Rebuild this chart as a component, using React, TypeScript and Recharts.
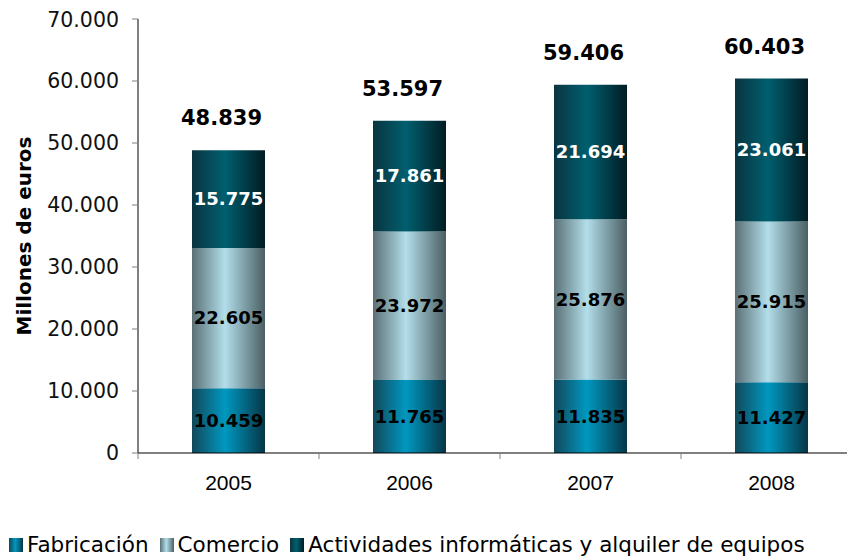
import { BarChart, Bar, XAxis, YAxis, LabelList } from 'recharts'

const years = ['2005', '2006', '2007', '2008']
const fabricacion = [10459, 11765, 11835, 11427]
const comercio = [22605, 23972, 25876, 25915]
const actividades = [15775, 17861, 21694, 23061]
const totales = [48839, 53597, 59406, 60403]
const yTicks = [0, 10000, 20000, 30000, 40000, 50000, 60000, 70000]

const seriesNames = ['Fabricación', 'Comercio', 'Actividades informáticas y alquiler de equipos']

const data = years.map((year, i) => ({
  year,
  fabricacion: fabricacion[i],
  comercio: comercio[i],
  actividades: actividades[i],
  total: totales[i],
}))

const fmt = (v: number) => String(v).replace(/\B(?=(\d{3})+(?!\d))/g, '.')

const verdana = '"DejaVu Sans", Verdana, sans-serif'

const gradients = {
  fab: ['#12485a', '#0098c0', '#063646'],
  com: ['#5b7076', '#b2deea', '#4b5f64'],
  act: ['#0a3440', '#005f6f', '#021c23'],
}

const cssGrad = (c: string[]) => `linear-gradient(to right, ${c[0]}, ${c[1]} 45%, ${c[2]})`

function YearTick(props: any) {
  const { x, y, payload } = props
  const half = payload.offset ?? 90.5
  return (
    <g>
      <line x1={x - half} x2={x - half} y1={y} y2={y + 6} stroke="#808080" />
      <text x={x} y={y + 37} textAnchor="middle" fontSize={21} fontFamily='"Liberation Sans", Arial, sans-serif' fill="#000">
        {payload.value}
      </text>
    </g>
  )
}

function Legend() {
  const keys = [gradients.fab, gradients.com, gradients.act]
  return (
    <div style={{ display: 'flex', alignItems: 'center', marginTop: 25, marginLeft: 1, fontFamily: verdana, fontSize: 21.5, lineHeight: '24px', whiteSpace: 'nowrap' }}>
      {seriesNames.map((name, i) => (
        <div key={name} style={{ display: 'flex', alignItems: 'center', marginRight: 11 }}>
          <span style={{ display: 'inline-block', width: 14, height: 14, background: cssGrad(keys[i]), marginRight: 4 }} />
          <span>{name}</span>
        </div>
      ))}
    </div>
  )
}

export default function App() {
  return (
    <div style={{ width: 847, overflow: 'hidden' }}>
      <BarChart width={860} height={500} data={data} margin={{ top: 11, right: 6, left: 0, bottom: 0 }}>
        <defs>
          {Object.entries(gradients).map(([id, c]) => (
            <linearGradient key={id} id={id} x1="0" y1="0" x2="1" y2="0">
              <stop offset="0%" stopColor={c[0]} />
              <stop offset="45%" stopColor={c[1]} />
              <stop offset="100%" stopColor={c[2]} />
            </linearGradient>
          ))}
        </defs>
        <XAxis
          dataKey="year"
          height={55}
          interval={0}
          tickSize={0}
          tickMargin={0}
          tickLine={false}
          axisLine={{ stroke: '#000' }}
          tick={<YearTick />}
        />
        <YAxis
          width={130}
          domain={[0, 70000]}
          ticks={yTicks}
          tickFormatter={fmt}
          tickSize={6}
          tickMargin={13}
          tickLine={{ stroke: '#808080' }}
          axisLine={{ stroke: '#000' }}
          tick={{ fontSize: 20.5, fontFamily: verdana, fill: '#111' }}
          label={{
            content: () => (
              <text
                x={16}
                y={228}
                transform="rotate(-90 16 228)"
                textAnchor="middle"
                dominantBaseline="central"
                fontFamily={verdana}
                fontWeight="bold"
                fontSize={20}
                fill="#000"
              >
                Millones de euros
              </text>
            ),
          }}
        />
        <Bar dataKey="fabricacion" stackId="a" fill="url(#fab)" barSize={73} isAnimationActive={false}>
          <LabelList dataKey="fabricacion" position="center" formatter={fmt} style={{ fontFamily: verdana, fontWeight: 'bold', fontSize: 18, fill: '#000' }} />
        </Bar>
        <Bar dataKey="comercio" stackId="a" fill="url(#com)" barSize={73} isAnimationActive={false}>
          <LabelList dataKey="comercio" position="center" formatter={fmt} style={{ fontFamily: verdana, fontWeight: 'bold', fontSize: 18, fill: '#000' }} />
        </Bar>
        <Bar dataKey="actividades" stackId="a" fill="url(#act)" barSize={73} isAnimationActive={false}>
          <LabelList dataKey="actividades" position="center" formatter={fmt} style={{ fontFamily: verdana, fontWeight: 'bold', fontSize: 18, fill: '#fff' }} />
          <LabelList dataKey="total" position="top" offset={25} dx={-7} formatter={fmt} style={{ fontFamily: verdana, fontWeight: 'bold', fontSize: 21, fill: '#000' }} />
        </Bar>
      </BarChart>
      <Legend />
    </div>
  )
}
